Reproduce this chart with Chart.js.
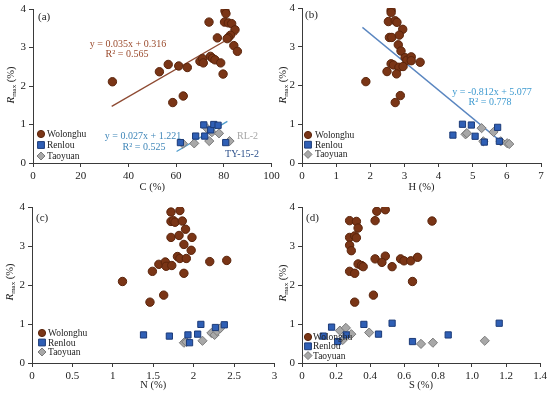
<!DOCTYPE html>
<html>
<head>
<meta charset="utf-8">
<script src="https://cdn.jsdelivr.net/npm/chart.js@4/dist/chart.umd.min.js"></script>
<style>
  body { margin: 0; background: #fff; }
  #wrap { position: relative; width: 550px; height: 396px; }
  canvas { position: absolute; }
</style>
</head>
<body>
<div id="wrap">
  <canvas id="chartA" width="280" height="198" style="left:0;top:0"></canvas>
  <canvas id="chartB" width="275" height="198" style="left:275px;top:0"></canvas>
  <canvas id="chartC" width="280" height="198" style="left:0;top:198px"></canvas>
  <canvas id="chartD" width="275" height="198" style="left:275px;top:198px"></canvas>
</div>
<script>
// ---- (a) C (%) vs Rmax ----
const wolC  = [33.3, 53, 56.7, 61.1, 64.7, 63, 58.6, 70, 71.1, 71.4, 74.4, 75.3, 76.3, 78.7, 79.7, 73.8, 77.3, 80.5, 80.9, 80.3, 81.9, 83.3, 84.7, 82.8, 81.9, 81.4, 84.2, 85.7];
const wolRa = [2.11, 2.37, 2.56, 2.52, 2.48, 1.74, 1.57, 2.64, 2.71, 2.60, 2.77, 2.72, 2.68, 2.60, 2.31, 3.66, 3.25, 3.95, 3.88, 3.66, 3.64, 3.62, 3.46, 3.32, 3.26, 3.23, 3.05, 2.90];
const renC  = [61.8, 68.2, 71.6, 72.0, 74.5, 75.8, 77.6, 80.8];
const renRa = [0.53, 0.70, 0.99, 0.70, 0.86, 1.00, 0.98, 0.53];
const taoC  = [62.9, 67.6, 73.0, 73.9, 75.0, 78.0, 82.4];
const taoRa = [0.50, 0.51, 0.90, 0.57, 0.80, 0.77, 0.57];
const fitWolC = [33, 85.5], fitWolRa = [1.47, 3.35];
const fitRtC  = [60.2, 81.5], fitRtRa = [0.30, 1.08];

// ---- (b) H (%) vs Rmax ----
const wolH  = [1.87, 2.53, 2.61, 2.61, 2.73, 2.78, 2.95, 2.56, 2.63, 2.85, 2.82, 2.90, 3.02, 3.07, 3.20, 3.20, 3.46, 2.61, 2.68, 2.84, 2.96, 2.49, 2.77, 2.88, 2.73];
const wolRb = [2.10, 3.65, 3.94, 3.88, 3.67, 3.63, 3.45, 3.24, 3.24, 3.30, 3.05, 2.89, 2.72, 2.65, 2.74, 2.64, 2.60, 2.56, 2.53, 2.47, 2.49, 2.36, 2.30, 1.74, 1.56];
const renH  = [4.42, 4.70, 4.96, 5.07, 5.34, 5.73, 5.78];
const renRb = [0.72, 1.00, 0.98, 0.69, 0.54, 0.92, 0.56];
const taoH  = [4.79, 4.83, 5.26, 5.31, 5.61, 5.82, 6.01, 6.07];
const taoRb = [0.74, 0.77, 0.90, 0.56, 0.80, 0.56, 0.51, 0.49];
const fitH = [1.77, 5.9], fitRb = [3.50, 0.50];

// ---- (c) N (%) vs Rmax ----
const wolN  = [1.12, 1.46, 1.63, 1.49, 1.57, 1.65, 1.66, 1.73, 1.80, 1.83, 1.91, 1.88, 2.20, 2.41, 1.97, 1.88, 1.72, 1.82, 1.98, 1.90, 1.72, 1.75, 1.77, 1.86, 1.72, 1.83];
const wolRc = [2.09, 1.56, 1.74, 2.35, 2.53, 2.59, 2.48, 2.50, 2.73, 2.68, 2.68, 2.30, 2.60, 2.63, 2.89, 3.04, 3.22, 3.27, 3.22, 3.43, 3.63, 3.65, 3.61, 3.64, 3.87, 3.91];
const renN  = [1.38, 1.70, 1.93, 1.95, 2.05, 2.09, 2.27, 2.38];
const renRc = [0.72, 0.69, 0.72, 0.52, 0.74, 0.99, 0.91, 0.98];
const taoN  = [1.88, 1.91, 2.11, 2.22, 2.26, 2.29, 2.33];
const taoRc = [0.52, 0.54, 0.57, 0.77, 0.72, 0.82, 0.89];

// ---- (d) S (%) vs Rmax ----
const wolS  = [0.28, 0.32, 0.33, 0.44, 0.49, 0.43, 0.765, 0.28, 0.31, 0.32, 0.28, 0.29, 0.43, 0.49, 0.47, 0.33, 0.35, 0.36, 0.53, 0.58, 0.60, 0.64, 0.68, 0.28, 0.31, 0.65, 0.42, 0.31];
const wolRd = [3.65, 3.63, 3.46, 3.89, 3.93, 3.65, 3.64, 3.22, 3.26, 3.21, 3.02, 2.88, 2.67, 2.74, 2.58, 2.54, 2.50, 2.47, 2.47, 2.67, 2.62, 2.62, 2.71, 2.35, 2.30, 2.09, 1.74, 1.56];
const renS  = [0.125, 0.174, 0.21, 0.26, 0.364, 0.45, 0.53, 0.65, 0.86, 1.16];
const renRd = [0.69, 0.92, 0.55, 0.72, 0.99, 0.74, 1.02, 0.55, 0.72, 1.02];
const taoS  = [0.223, 0.258, 0.24, 0.29, 0.395, 0.70, 0.77, 1.075];
const taoRd = [0.83, 0.90, 0.59, 0.74, 0.78, 0.49, 0.52, 0.57];

const seriesNames = ['Wolonghu', 'Renlou', 'Taoyuan'];
const yTicks = [0, 1, 2, 3, 4];

const FONT = '"Liberation Serif", "Times New Roman", serif';
const AXIS = '#3a3a3a';
const styles = {
  Wolonghu: { shape: 'circle', fill: '#7a3516', stroke: '#5a240b', r: 4.2 },
  Renlou:   { shape: 'rect',   fill: '#2f5fb5', stroke: '#1c3b78', r: 4.4 },
  Taoyuan:  { shape: 'rectRot', fill: '#a8a8a8', stroke: '#7a7a7a', r: 4.6 }
};

function pts(xs, ys) {
  return xs.map((x, i) => ({ x: x, y: ys[i] }));
}

function pointSet(name, xs, ys) {
  const s = styles[name];
  return {
    label: name,
    data: pts(xs, ys),
    showLine: false,
    pointStyle: s.shape,
    pointRadius: s.r,
    pointBackgroundColor: s.fill,
    pointBorderColor: s.stroke,
    pointBorderWidth: 1
  };
}

function lineSet(xs, ys, color) {
  return {
    label: 'fit',
    data: pts(xs, ys),
    showLine: true,
    borderColor: color,
    borderWidth: 1.3,
    pointRadius: 0
  };
}

function drawMarker(ctx, name, x, y) {
  const s = styles[name];
  ctx.fillStyle = s.fill;
  ctx.strokeStyle = s.stroke;
  ctx.lineWidth = 1;
  ctx.beginPath();
  if (s.shape === 'circle') {
    ctx.arc(x, y, 3.6, 0, Math.PI * 2);
  } else if (s.shape === 'rect') {
    ctx.rect(x - 3.4, y - 3.4, 6.8, 6.8);
  } else {
    ctx.moveTo(x, y - 4); ctx.lineTo(x + 4, y); ctx.lineTo(x, y + 4); ctx.lineTo(x - 4, y); ctx.closePath();
  }
  ctx.fill();
  ctx.stroke();
}

// texts, legend and the R_max title
const annotate = {
  id: 'annotate',
  afterDraw(chart, args, o) {
    const ctx = chart.ctx;
    ctx.save();

    // y axis title R_max (%)
    ctx.translate(o.yTitle.x, o.yTitle.y);
    ctx.rotate(-Math.PI / 2);
    ctx.fillStyle = '#222';
    ctx.textBaseline = 'middle';
    const f1 = 'italic 11px ' + FONT, f2 = '7px ' + FONT, f3 = '10.5px ' + FONT;
    ctx.font = f1; const w1 = ctx.measureText('R').width;
    ctx.font = f2; const w2 = ctx.measureText('max').width;
    ctx.font = f3; const w3 = ctx.measureText(' (%)').width;
    let x0 = -(w1 + w2 + w3) / 2;
    ctx.textAlign = 'left';
    ctx.font = f1; ctx.fillText('R', x0, 0); x0 += w1;
    ctx.font = f2; ctx.fillText('max', x0, 3); x0 += w2;
    ctx.font = f3; ctx.fillText(' (%)', x0, 0);
    ctx.setTransform(1, 0, 0, 1, 0, 0);

    // panel label and equations
    ctx.textBaseline = 'middle';
    (o.texts || []).forEach(t => {
      ctx.font = (t.size || 10) + 'px ' + FONT;
      ctx.fillStyle = t.color || '#222';
      ctx.textAlign = t.align || 'left';
      ctx.fillText(t.text, t.x, t.y);
    });

    // legend
    const lg = o.legend;
    ctx.font = '9.5px ' + FONT;
    ctx.textAlign = 'left';
    seriesNames.forEach((name, i) => {
      const y = lg.y + i * lg.dy;
      drawMarker(ctx, name, lg.x, y);
      ctx.fillStyle = '#222';
      ctx.fillText(name, lg.tx, y + 0.5);
    });
    ctx.restore();
  }
};

function buildPanel(id, p) {
  const tickFont = { family: FONT, size: 11 };
  return new Chart(document.getElementById(id), {
    type: 'scatter',
    data: { datasets: p.datasets },
    plugins: [annotate],
    options: {
      responsive: false,
      animation: false,
      events: [],
      layout: { padding: { top: p.padTop, right: p.padRight, left: 0, bottom: 0 } },
      plugins: {
        legend: { display: false },
        tooltip: { enabled: false },
        annotate: { yTitle: p.yTitle, texts: p.texts, legend: p.legend }
      },
      scales: {
        x: {
          type: 'linear',
          min: p.xMin, max: p.xMax,
          border: { display: true, color: AXIS, width: 1 },
          grid: { drawOnChartArea: false, drawTicks: true, tickLength: 4, color: AXIS },
          ticks: {
            stepSize: p.xStep, font: tickFont, color: '#222', padding: 3,
            maxRotation: 0, autoSkip: false,
            callback: p.xFormat || (v => v)
          },
          title: { display: true, text: p.xTitle, font: { family: FONT, size: 10.5 }, color: '#222', padding: { top: 0, bottom: 4 } },
          afterFit: s => { s.height = p.xHeight; s.paddingLeft = 0; s.paddingRight = 0; }
        },
        y: {
          type: 'linear',
          min: 0, max: 4,
          border: { display: true, color: AXIS, width: 1 },
          grid: { drawOnChartArea: false, drawTicks: true, tickLength: 4, color: AXIS },
          ticks: {
            font: tickFont, color: '#222', padding: 3,
            callback: v => (yTicks.includes(v) ? v : '')
          },
          afterBuildTicks: s => { s.ticks = yTicks.map(v => ({ value: v })); },
          afterFit: s => { s.width = p.yWidth; s.paddingTop = 0; s.paddingBottom = 0; }
        }
      }
    }
  });
}

const brown = '#9a4a2c';
const eqBlue = '#3f86b8';

buildPanel('chartA', {
  datasets: [
    pointSet('Wolonghu', wolC, wolRa),
    pointSet('Renlou', renC, renRa),
    pointSet('Taoyuan', taoC, taoRa),
    lineSet(fitWolC, fitWolRa, '#8e4a32'),
    lineSet(fitRtC, fitRtRa, '#4f9ccc')
  ],
  xMin: 0, xMax: 100, xStep: 20, xTitle: 'C (%)',
  yWidth: 33, xHeight: 35, padTop: 9, padRight: 8.5,
  yTitle: { x: 11, y: 85 },
  legend: { x: 41, y: 134, dy: 11, tx: 47 },
  texts: [
    { text: '(a)', x: 38, y: 17, size: 11 },
    { text: 'y = 0.035x + 0.316', x: 128, y: 44, align: 'center', color: brown },
    { text: 'R² = 0.565', x: 127, y: 54.5, align: 'center', color: brown },
    { text: 'y = 0.027x + 1.221', x: 143, y: 136, align: 'center', color: eqBlue },
    { text: 'R² = 0.525', x: 144, y: 147, align: 'center', color: eqBlue },
    { text: 'RL-2', x: 237, y: 136, color: '#a6a6a6' },
    { text: 'TY-15-2', x: 242, y: 154, align: 'center', color: '#2b4f8a' }
  ]
});

buildPanel('chartB', {
  datasets: [
    pointSet('Wolonghu', wolH, wolRb),
    pointSet('Renlou', renH, renRb),
    pointSet('Taoyuan', taoH, taoRb),
    lineSet(fitH, fitRb, '#5a86c0')
  ],
  xMin: 0, xMax: 7, xStep: 1, xTitle: 'H (%)',
  yWidth: 27, xHeight: 35, padTop: 8, padRight: 9,
  yTitle: { x: 8, y: 85 },
  legend: { x: 33, y: 135, dy: 9.7, tx: 40 },
  texts: [
    { text: '(b)', x: 30, y: 15, size: 11 },
    { text: 'y = -0.812x + 5.077', x: 217, y: 92, align: 'center', color: '#3e9ad0' },
    { text: 'R² = 0.778', x: 215, y: 102, align: 'center', color: '#3e9ad0' }
  ]
});

buildPanel('chartC', {
  datasets: [
    pointSet('Wolonghu', wolN, wolRc),
    pointSet('Renlou', renN, renRc),
    pointSet('Taoyuan', taoN, taoRc)
  ],
  xMin: 0, xMax: 3, xStep: 0.5, xTitle: 'N (%)',
  yWidth: 32, xHeight: 33, padTop: 9, padRight: 5,
  yTitle: { x: 10, y: 84 },
  legend: { x: 42, y: 135, dy: 9.5, tx: 48 },
  texts: [
    { text: '(c)', x: 36, y: 20, size: 11 }
  ]
});

buildPanel('chartD', {
  datasets: [
    pointSet('Wolonghu', wolS, wolRd),
    pointSet('Renlou', renS, renRd),
    pointSet('Taoyuan', taoS, taoRd)
  ],
  xMin: 0, xMax: 1.4, xStep: 0.2, xTitle: 'S (%)',
  xFormat: v => (v === 0 ? '0' : v.toFixed(1)),
  yWidth: 27, xHeight: 33, padTop: 9, padRight: 10,
  yTitle: { x: 8, y: 85 },
  legend: { x: 33, y: 139, dy: 9.3, tx: 38 },
  texts: [
    { text: '(d)', x: 31, y: 20, size: 11 }
  ]
});
</script>
</body>
</html>
